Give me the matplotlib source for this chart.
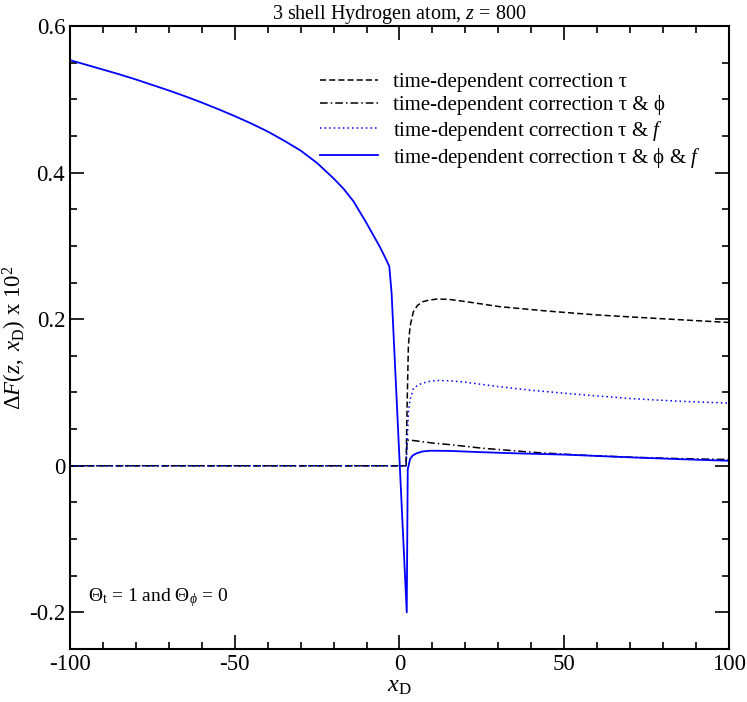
import matplotlib
matplotlib.use('Agg')
import matplotlib.pyplot as plt
from matplotlib.ticker import MultipleLocator

plt.rcParams['font.family'] = ['Liberation Serif', 'DejaVu Serif']
plt.rcParams['mathtext.fontset'] = 'custom'
plt.rcParams['mathtext.rm'] = 'Liberation Serif'
plt.rcParams['mathtext.it'] = 'Liberation Serif:italic'
plt.rcParams['mathtext.bf'] = 'Liberation Serif:bold'

# curve tau (dashed)
x_tau = [-100, 2.0, 2.3, 2.7, 3.2, 4.2, 5.5, 7.2, 9, 11.3, 15, 20, 30.5, 45, 60.8, 80, 100]
y_tau = [0, 0, 0.08, 0.164, 0.19, 0.21, 0.219, 0.224, 0.226, 0.2274, 0.227, 0.224,
         0.217, 0.211, 0.2055, 0.2005, 0.1955]

# curve tau & phi (dash-dot)
x_tp = [-100, 2.0, 2.3, 3, 5, 10, 15.3, 25, 40.6, 55, 71, 85, 100]
y_tp = [0, 0, 0.035, 0.035, 0.034, 0.031, 0.0288, 0.024, 0.0183, 0.0145, 0.0115, 0.0098, 0.0085]

# curve tau & f (dotted)
x_tf = [-100, 2.0, 2.4, 2.7, 3.2, 4.2, 5.5, 7.2, 9, 11.3, 15, 20, 30, 40.6, 55, 71, 85, 100]
y_tf = [0, 0, 0.04, 0.073, 0.09, 0.105, 0.110, 0.113, 0.115, 0.1164, 0.116, 0.114, 0.108,
        0.1027, 0.097, 0.0914, 0.088, 0.0855]

# curve tau & phi & f (solid blue)
x_all = [-100, -95, -90, -85, -80, -75, -70, -65, -60, -55, -50, -45, -40, -35, -30, -25,
         -20, -17, -14, -12, -10, -8, -6, -4.5, -3.1, -2.4, 2.2, 2.5, 3.2, 4, 5.2, 7, 9.3,
         15, 25, 35, 50.7, 70, 85, 100]
y_all = [0.5534, 0.547, 0.5405, 0.534, 0.527, 0.5195, 0.512, 0.504, 0.4955, 0.4865, 0.477,
         0.467, 0.456, 0.4435, 0.430, 0.413, 0.392, 0.378, 0.361, 0.346, 0.331, 0.315, 0.299,
         0.2855, 0.272, 0.236, -0.2, -0.005, 0.009, 0.014, 0.017, 0.0195, 0.0205, 0.0203,
         0.0185, 0.017, 0.0151, 0.0115, 0.009, 0.0068]

labels = ['time-dependent correction \u03c4',
          'time-dependent correction \u03c4 & \u03d5',
          'time-dependent correction \u03c4 & $f$',
          'time-dependent correction \u03c4 & \u03d5 & $f$']

fig = plt.figure(figsize=(7.47, 7.02), dpi=100)
ax = fig.add_axes([0.0937, 0.0755, 0.8822, 0.8875])

ax.plot(x_tau, y_tau, color='black', lw=1.1, ls=(0, (4, 2)), label=labels[0])
ax.plot(x_tp, y_tp, color='black', lw=1.1, ls=(0, (5, 2, 1, 2)), label=labels[1])
ax.plot(x_tf, y_tf, color='blue', lw=1.1, ls=(0, (1, 2)), label=labels[2])
ax.plot(x_all, y_all, color='blue', lw=1.3, label=labels[3])

ax.set_xlim(-100, 100)
ax.set_ylim(-0.25, 0.6)
ax.xaxis.set_minor_locator(MultipleLocator(10))
ax.yaxis.set_minor_locator(MultipleLocator(0.05))
ax.set_yticks([-0.2, 0, 0.2, 0.4, 0.6])
ax.set_yticklabels(['-0.2', '0', '0.2', '0.4', '0.6'])
ax.set_xticks([-100, -50, 0, 50, 100])
ax.set_xticklabels(['-100', '-50', '0', '50', '100'])
ax.tick_params(which='both', direction='in', top=True, right=True, labelsize=16.5, width=1.2)
ax.tick_params(which='major', length=10)
ax.tick_params(which='minor', length=5)
for s in ax.spines.values():
    s.set_linewidth(1.5)

ax.set_xlabel('$x_{\\rm D}$', fontsize=17.5, labelpad=1)
ax.set_ylabel('$\\Delta F(z,\\ x_{\\rm D})$ x $10^2$', fontsize=16.5, labelpad=0)
ax.set_title('3 shell Hydrogen atom, $z$ = 800', fontsize=14.5, pad=3)

ax.text(0.027, 0.082, '$\\Theta_{\\rm t}$ = 1 and $\\Theta_{\\phi}$ = 0',
        transform=ax.transAxes, fontsize=14, va='center')

ax.legend(loc='upper left', bbox_to_anchor=(0.379, 0.925), frameon=False,
          fontsize=15, handlelength=2.8, handletextpad=0.72, labelspacing=0.15,
          borderpad=0, borderaxespad=0)

fig.savefig('out.png', dpi=100)
